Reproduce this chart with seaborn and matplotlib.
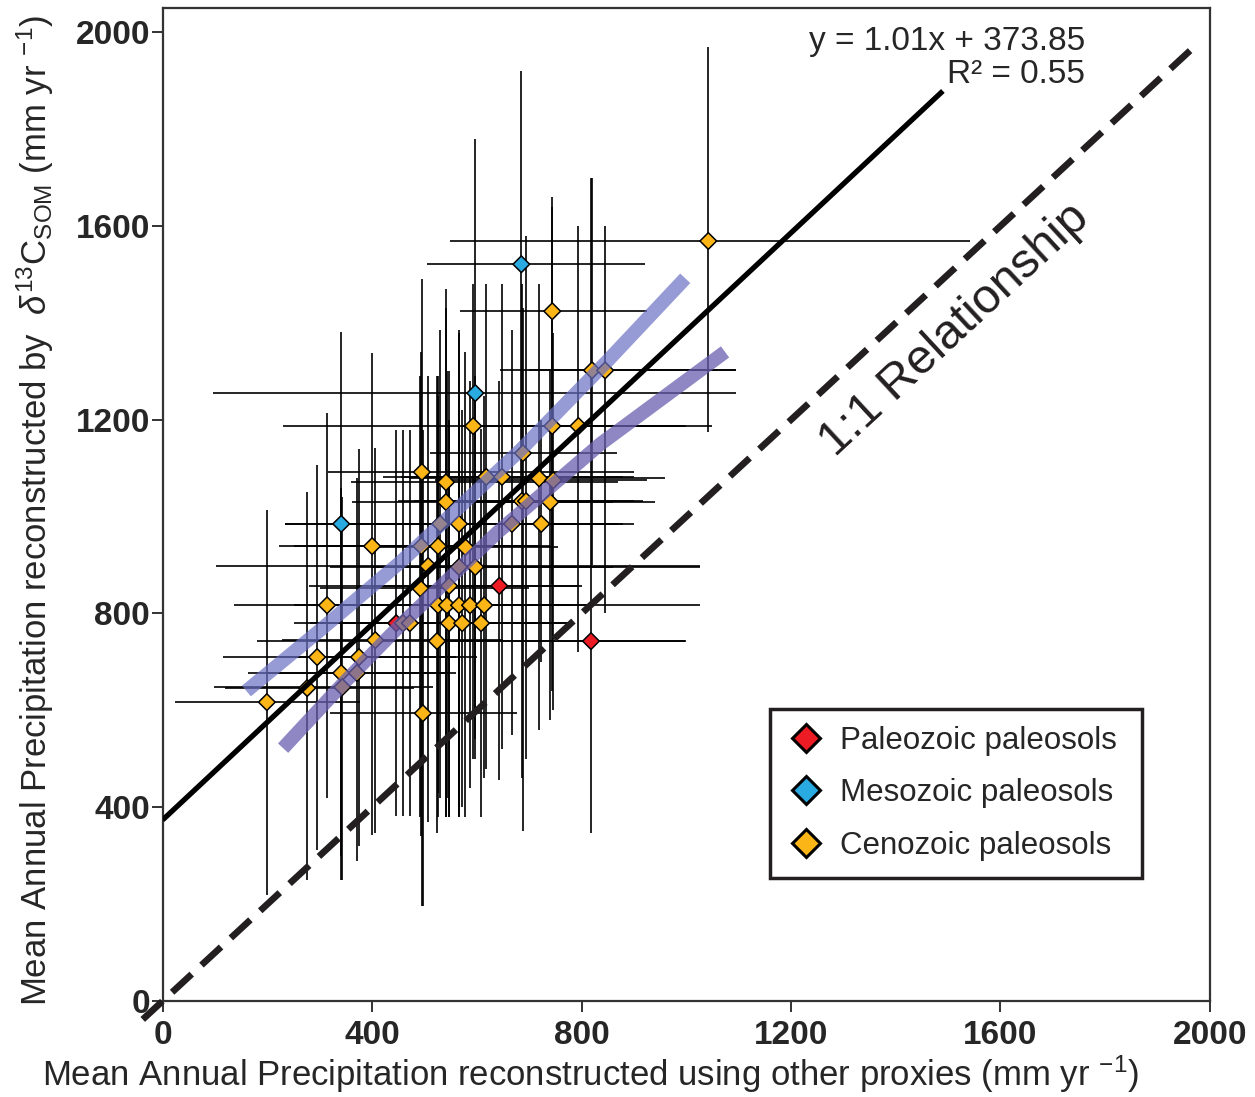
import matplotlib
matplotlib.use("Agg")
import matplotlib.pyplot as plt
import numpy as np
import pandas as pd
import seaborn as sns
from matplotlib.lines import Line2D

# Mean annual precipitation (mm/yr): other proxies (x) vs. d13C of soil organic matter (y)
era = ["C", "M", "C", "C", "C", "M", "C", "C", "C", "C",
       "C", "C", "C", "C", "C", "C", "C", "C", "C", "C",
       "C", "M", "C", "C", "C", "C", "C", "C", "C", "C",
       "C", "C", "C", "C", "P", "C", "C", "C", "C", "C",
       "C", "C", "P", "C", "C", "C", "C", "C", "C", "C",
       "P", "C", "C", "C", "C", "C", "C", "C"]
x_other = [1042, 685, 744, 820, 845, 597, 593, 744, 794, 688,
           495, 541, 618, 648, 719, 746, 541, 686, 694, 740,
           530, 341, 566, 667, 723, 400, 494, 526, 578, 507,
           566, 597, 314, 547, 643, 526, 543, 566, 587, 614,
           295, 375, 446, 459, 472, 547, 572, 608, 406, 524,
           818, 341, 371, 343, 276, 199, 497, 492]
y_som = [1569, 1521, 1424, 1302, 1302, 1255, 1187, 1187, 1187, 1131,
         1092, 1071, 1082, 1082, 1079, 1075, 1030, 1032, 1032, 1030,
         985, 985, 985, 985, 985, 939, 939, 939, 937, 898,
         896, 896, 817, 857, 857, 817, 817, 817, 817, 817,
         710, 710, 780, 780, 780, 780, 780, 780, 745, 743,
         743, 677, 677, 648, 646, 617, 594, 852]
x_low = [549, 505, 568, 645, 700, 96, 230, 570, 640, 510,
         316, 360, 455, 420, 470, 520, 362, 450, 480, 560,
         234, 234, 300, 440, 520, 223, 250, 300, 400, 102,
         320, 400, 137, 280, 400, 250, 300, 320, 350, 430,
         116, 220, 282, 250, 300, 330, 380, 430, 228, 180,
         530, 163, 200, 98, 120, 24, 320, 300]
x_high = [1542, 922, 925, 1094, 1094, 1094, 988, 1000, 1050, 868,
          900, 870, 900, 880, 960, 925, 860, 918, 900, 940,
          860, 700, 870, 880, 900, 700, 720, 740, 755, 1027,
          860, 1027, 640, 800, 792, 780, 1027, 760, 740, 820,
          560, 600, 700, 720, 700, 784, 760, 784, 650, 1000,
          998, 549, 560, 517, 480, 377, 677, 700]
y_low = [1174, 1060, 860, 900, 800, 500, 500, 640, 720, 350,
         196, 380, 480, 520, 560, 600, 380, 460, 500, 580,
         420, 250, 380, 550, 700, 343, 340, 430, 380, 370,
         380, 540, 419, 380, 456, 380, 420, 400, 440, 460,
         312, 320, 382, 382, 382, 380, 400, 380, 347, 347,
         347, 300, 290, 250, 250, 219, 196, 380]
y_high = [1969, 1920, 1640, 1700, 1600, 1780, 1480, 1660, 1600, 1430,
          1490, 1470, 1480, 1480, 1480, 1380, 1430, 1480, 1580, 1300,
          1385, 1381, 1385, 1385, 1200, 1337, 1340, 1290, 1340, 1290,
          1380, 1290, 1214, 1300, 1280, 1250, 1300, 1200, 1280, 1250,
          1106, 1140, 1178, 1178, 1178, 1200, 1220, 1180, 1141, 1290,
          1700, 1060, 1080, 1040, 1050, 1013, 1178, 1290]

era_names = {"P": "Paleozoic paleosols", "M": "Mesozoic paleosols", "C": "Cenozoic paleosols"}
era_order = ["Paleozoic paleosols", "Mesozoic paleosols", "Cenozoic paleosols"]
era_colors = ["#ED1C24", "#29ABE2", "#FBB516"]

# least-squares fit reported on the chart
fit_slope, fit_intercept, fit_r2 = 1.01, 373.85, 0.55
fit_x_end = 1490

# confidence band traces
band_upper_x = [160, 300, 454, 683, 850, 998]
band_upper_y = [640, 765, 906, 1137, 1322, 1492]
band_lower_x = [230, 340, 454, 640, 836, 1074]
band_lower_y = [522, 650, 776, 968, 1150, 1340]

# 1:1 reference
one_to_one = [-38, 1966]

x_ticks = [0, 400, 800, 1200, 1600, 2000]
y_ticks = [0, 400, 800, 1200, 1600, 2000]

df = pd.DataFrame({
    "x": x_other, "y": y_som,
    "xlo": x_low, "xhi": x_high, "ylo": y_low, "yhi": y_high,
    "era": [era_names[e] for e in era],
})

sns.set_theme(style="ticks")
plt.rcParams["font.family"] = ["Liberation Sans", "DejaVu Sans"]
plt.rcParams["mathtext.fontset"] = "custom"
plt.rcParams["mathtext.rm"] = "Liberation Sans"
plt.rcParams["mathtext.it"] = "Liberation Sans:italic"
plt.rcParams["mathtext.bf"] = "Liberation Sans:bold"

fig = plt.figure(figsize=(12.55, 10.97), dpi=100)
ax = fig.add_axes([0.1296, 0.0875, 0.8345, 0.9052])

# uncertainty whiskers
ax.errorbar(df["x"], df["y"],
            xerr=[df["x"] - df["xlo"], df["xhi"] - df["x"]],
            yerr=[df["y"] - df["ylo"], df["yhi"] - df["y"]],
            fmt="none", ecolor="black", elinewidth=1.2, capsize=0, zorder=2)

sns.scatterplot(data=df, x="x", y="y", hue="era", hue_order=era_order,
                palette=era_colors, marker="D", s=72, edgecolor="black",
                linewidth=1.1, legend=False, zorder=3, ax=ax)

# confidence bands
ax.plot(band_upper_x, band_upper_y, color="#6a70c4", lw=10, alpha=0.7,
        solid_capstyle="butt", zorder=4)
ax.plot(band_lower_x, band_lower_y, color="#6a5fb0", lw=10, alpha=0.75,
        solid_capstyle="butt", zorder=4)

# regression line
fx = np.array([0, fit_x_end])
ax.plot(fx, fit_slope * fx + fit_intercept, color="black", lw=3.8,
        solid_capstyle="butt", zorder=5)

# 1:1 line
ax.plot(one_to_one, one_to_one, color="#231f20", lw=4.8, dashes=(4, 2),
        clip_on=False, zorder=5)

ax.text(1512, 1385, "1:1 Relationship", rotation=42.8, fontsize=35,
        ha="center", va="center", rotation_mode="anchor", color="#231f20")
ax.text(0.881, 0.966, f"y = {fit_slope:.2f}x + {fit_intercept:.2f}",
        transform=ax.transAxes, ha="right", va="center", fontsize=24)
ax.text(0.881, 0.933, f"R² = {fit_r2:.2f}",
        transform=ax.transAxes, ha="right", va="center", fontsize=24)

ax.set_xlim(0, 2000)
ax.set_ylim(0, 2050)
ax.set_xticks(x_ticks)
ax.set_yticks(y_ticks)
ax.tick_params(axis="both", direction="out", length=8, width=1.4,
               labelsize=24, color="#333333")
ax.tick_params(axis="y", pad=1)
ax.tick_params(axis="x", pad=6)
for lbl in ax.get_xticklabels() + ax.get_yticklabels():
    lbl.set_fontweight("bold")
for sp in ax.spines.values():
    sp.set_linewidth(1.6)
    sp.set_color("#333333")

ax.set_xlabel(r"Mean Annual Precipitation reconstructed using other proxies (mm yr $^{-1}$)",
              fontsize=25)
ax.set_ylabel(r"Mean Annual Precipitation reconstructed by  $\delta^{13}$C$_{\mathregular{SOM}}$ (mm yr $^{-1}$)",
              fontsize=25)
ax.xaxis.set_label_coords(0.409, -0.053)
ax.yaxis.set_label_coords(-0.102, 0.494)

handles = [Line2D([], [], marker="D", linestyle="none", markerfacecolor=c,
                  markeredgecolor="black", markeredgewidth=2.2, markersize=14)
           for c in era_colors]
leg = ax.legend(handles, era_order, loc="lower left",
                bbox_to_anchor=(0.58, 0.124, 0.355, 0.171), mode="expand",
                borderaxespad=0, fontsize=22.5, frameon=True, fancybox=False,
                framealpha=1, edgecolor="#231f20", labelspacing=0.72,
                handletextpad=0.5, handlelength=1.2, borderpad=0.55)
leg.get_frame().set_linewidth(2.5)

fig.savefig("out.png", dpi=100)
